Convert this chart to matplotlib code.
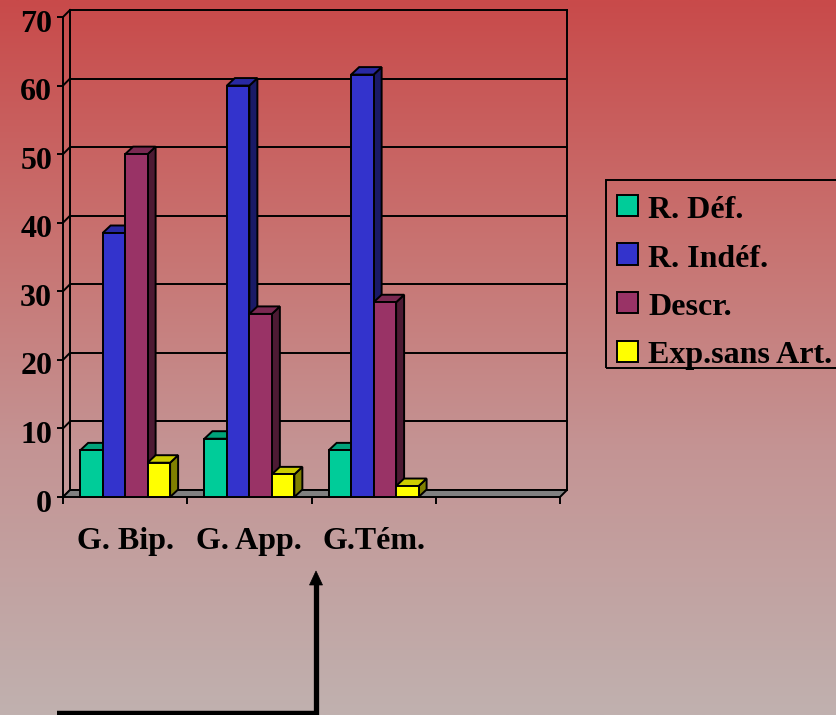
import numpy as np
import matplotlib
matplotlib.use("Agg")
import matplotlib.pyplot as plt
from matplotlib.patches import Polygon, Rectangle
from matplotlib.lines import Line2D
from matplotlib.colors import to_rgb
from matplotlib.transforms import ScaledTranslation

# ---- data -------------------------------------------------------------
categories = ["G. Bip.", "G. App.", "G.Tém.", ""]
series_names = ["R. Déf.", "R. Indéf.", "Descr.", "Exp.sans Art."]
r_def = [6.8, 8.5, 6.8]
r_indef = [38.5, 60.0, 61.6]
descr = [50.0, 26.7, 28.4]
exp_sans_art = [5.0, 3.3, 1.6]
y_ticks = [0, 10, 20, 30, 40, 50, 60, 70]

series_values = [r_def, r_indef, descr, exp_sans_art]
series_colors = ["#00CC99", "#3333CC", "#993366", "#FFFF00"]

# ---- figure -----------------------------------------------------------
W, H, DPI = 836, 715, 100
fig = plt.figure(figsize=(W / DPI, H / DPI), dpi=DPI)
FONT = dict(family="Liberation Serif", weight="bold", size=23, color="black")


def fx(x):
    return x / W


def fy(y):
    return 1 - y / H


# vertical background gradient
bg = fig.add_axes([0, 0, 1, 1], zorder=-10)
stops_t = [0.0, 0.35, 0.63, 1.0]
stops_c = np.array([[201, 74, 74], [200, 116, 114], [196, 148, 148], [192, 177, 175]]) / 255
t = np.linspace(0, 1, 400)
grad = np.stack([np.interp(t, stops_t, stops_c[:, k]) for k in range(3)], axis=1)
bg.imshow(grad[:, None, :], aspect="auto", extent=[0, 1, 0, 1])
bg.set_axis_off()

# main plotting axes: front plane of the 3-D box
x0p, x1p, y0p, y1p = 63, 560, 497, 17
ax = fig.add_axes([fx(x0p), fy(y0p), fx(x1p - x0p), (y0p - y1p) / H])
ax.patch.set_alpha(0)
ncat = len(categories)
ax.set_xlim(-0.5, ncat - 0.5)
ax.set_ylim(0, 70)

px_per_x = (x1p - x0p) / ncat
px_per_y = (y0p - y1p) / 70.0
wall_dx, wall_dy = 7 / px_per_x, 7 / px_per_y      # depth of walls/floor
bar_dx, bar_dy = 8 / px_per_x, 7.5 / px_per_y      # depth of the columns

LW = 1.4
ZBASE = 1

# back wall gridlines and left-wall connectors
xl, xr = -0.5, ncat - 0.5
for v in y_ticks:
    ax.plot([xl + wall_dx, xr + wall_dx], [v + wall_dy, v + wall_dy],
            color="black", lw=LW, clip_on=False, zorder=ZBASE)
    ax.plot([xl, xl + wall_dx], [v, v + wall_dy],
            color="black", lw=LW, clip_on=False, zorder=ZBASE)
# back wall edges
ax.plot([xl + wall_dx, xl + wall_dx], [wall_dy, 70 + wall_dy], color="black",
        lw=LW, clip_on=False, zorder=ZBASE)
ax.plot([xr + wall_dx, xr + wall_dx], [wall_dy, 70 + wall_dy], color="black",
        lw=LW, clip_on=False, zorder=ZBASE)

# floor
floor = Polygon([(xl, 0), (xr, 0), (xr + wall_dx, wall_dy), (xl + wall_dx, wall_dy)],
                closed=True, facecolor="#808080", edgecolor="black", lw=LW,
                clip_on=False, zorder=ZBASE + 1)
ax.add_patch(floor)


def shade(c, f):
    r, g, b = to_rgb(c)
    return (r * f, g * f, b * f)


# columns
nser = len(series_values)
bw = 0.181
gap = (1 - nser * bw) / 2
z = ZBASE + 2
for ci in range(ncat):
    for si in range(nser):
        vals = series_values[si]
        if ci >= len(vals):
            continue
        v = vals[ci]
        col = series_colors[si]
        a = ci - 0.5 + gap + si * bw
        b = a + bw
        side = Polygon([(b, 0), (b + bar_dx, bar_dy), (b + bar_dx, v + bar_dy), (b, v)],
                       closed=True, facecolor=shade(col, 0.5), edgecolor="black",
                       lw=LW, clip_on=False, zorder=z)
        top = Polygon([(a, v), (b, v), (b + bar_dx, v + bar_dy), (a + bar_dx, v + bar_dy)],
                      closed=True, facecolor=shade(col, 0.8), edgecolor="black",
                      lw=LW, clip_on=False, zorder=z)
        front = Rectangle((a, 0), bw, v, facecolor=col, edgecolor="black",
                          lw=LW, clip_on=False, zorder=z)
        for p in (side, top, front):
            ax.add_patch(p)
        z += 1

# axes: front vertical axis with ticks, category ticks below floor
for s in ("top", "right", "bottom"):
    ax.spines[s].set_visible(False)
ax.spines["left"].set_linewidth(LW)
ax.spines["left"].set_zorder(z + 1)
ax.set_yticks(y_ticks)
ax.set_yticklabels([str(v) for v in y_ticks], fontdict=FONT)
ax.tick_params(axis="y", direction="out", length=4.3, width=LW, pad=3.5)
shift_down = ScaledTranslation(0, -3.5 / DPI, fig.dpi_scale_trans)
for lbl in ax.get_yticklabels():
    lbl.set_transform(lbl.get_transform() + shift_down)

ax.set_xticks(np.arange(-0.5, ncat, 1.0))
ax.set_xticklabels([])
ax.tick_params(axis="x", which="major", direction="out", length=5, width=LW)
ax.set_xticks(np.arange(ncat), minor=True)
ax.set_xticklabels(categories, minor=True, fontdict=FONT)
ax.tick_params(axis="x", which="minor", length=0, pad=21.5)

# legend (box runs off the right edge)
lg_left, lg_top, lg_bottom = 606, 180, 368
fig.add_artist(Rectangle((fx(lg_left), fy(lg_bottom)), fx(W + 10 - lg_left),
                         (lg_bottom - lg_top) / H, transform=fig.transFigure,
                         facecolor="none", edgecolor="black", lw=LW))
for i, (name, col) in enumerate(zip(series_names, series_colors)):
    top_y = 195 + i * 48.5
    fig.add_artist(Rectangle((fx(617), fy(top_y + 21)), fx(21), 21 / H,
                             transform=fig.transFigure, facecolor=col,
                             edgecolor="black", lw=LW))
    fig.text(fx(648), fy(top_y + 23), name, ha="left", va="baseline", **FONT)

# pointer arrow under the third group
fig.add_artist(Line2D([fx(57), fx(318)], [fy(713), fy(713)], color="black",
                      lw=3.2, transform=fig.transFigure, solid_capstyle="butt"))
fig.add_artist(Line2D([fx(316), fx(316)], [fy(715), fy(582)], color="black",
                      lw=3.8, transform=fig.transFigure, solid_capstyle="butt"))
fig.add_artist(Polygon([(fx(309.5), fy(585)), (fx(322.5), fy(585)), (fx(316), fy(571))],
                       closed=True, transform=fig.transFigure, facecolor="black",
                       edgecolor="black", lw=0.5))

fig.savefig("out.png", dpi=DPI)
